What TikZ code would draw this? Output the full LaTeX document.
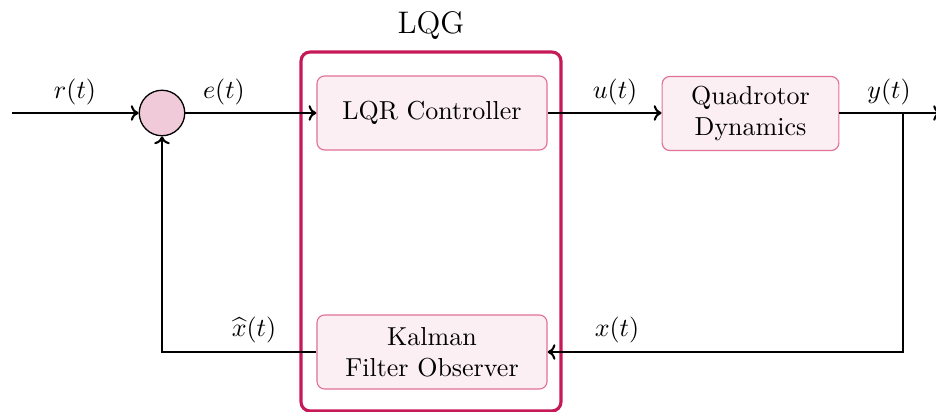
\documentclass[tikz,border=0pt]{standalone}
\usepackage{amsmath}
\usetikzlibrary{arrows.meta}
\definecolor{lqgrim}{RGB}{198,26,88}
\definecolor{blockedge}{RGB}{226,112,152}
\definecolor{blockfill}{RGB}{251,239,244}
\definecolor{sumfill}{RGB}{241,202,217}
\tikzset{
  block/.style={draw=blockedge, fill=blockfill, line width=0.45pt, rounded corners=3pt,
    minimum height=28.5pt, align=center, inner sep=2pt},
  sumnode/.style={circle, draw=black, fill=sumfill, line width=0.5pt, minimum size=17.5pt, inner sep=0pt},
  sig/.style={line width=0.8pt, -{To[length=3pt,width=6pt]}},
  lbl/.style={inner sep=0pt}
}
\begin{document}
\begin{tikzpicture}[x=0.3846pt, y=-0.3846pt]
  \useasboundingbox (0,0) rectangle (936,412);

  % LQG enclosure
  \draw[lqgrim, line width=1.2pt, rounded corners=3.5pt] (301,52) rectangle (561,411);
  \node[lbl, font=\large] (lqg) at (431,26) {LQG};

  % blocks
  \node[block, minimum width=88.5pt] (lqr) at (432,113) {LQR Controller};
  \node[block, minimum width=68pt] (plant) at (750.5,113.5) {Quadrotor\\Dynamics};
  \node[block, minimum width=88.5pt] (kf) at (432,352) {Kalman\\Filter Observer};
  \node[sumnode] (sum) at (162,113) {};

  % helper points
  \coordinate (in) at (12,113);
  \coordinate (out) at (941,113);
  \coordinate (br) at (903,113);
  \coordinate (brlow) at (903,352);
  \coordinate (fbcorner) at (162,352);

  % forward path
  \draw[sig] (in) -- (sum.west);
  \draw[sig] (sum.east) -- (lqr.west);
  \draw[sig] (lqr.east) -- (plant.west |- lqr.east);
  \draw[sig] (plant.east |- br) -- (out);

  % measurement and estimate feedback
  \draw[sig] (br) -- (brlow) -- (kf.east);
  \draw[sig] (kf.west) -- (fbcorner) -- (sum.south);

  % signal labels
  \node[lbl] (rl) at (75,92) {$r(t)$};
  \node[lbl] (el) at (224,92) {$e(t)$};
  \node[lbl] (ul) at (615,92) {$u(t)$};
  \node[lbl] (yl) at (889,92) {$y(t)$};
  \node[lbl] (xl) at (617,330) {$x(t)$};
  \node[lbl] (xhl) at (254,330) {$\widehat{x}(t)$};
\end{tikzpicture}
\end{document}
